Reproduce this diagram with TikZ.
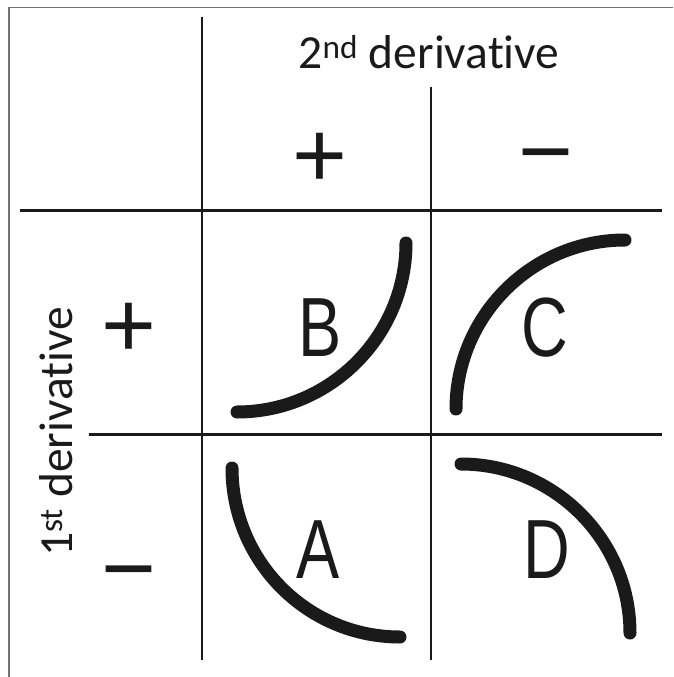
\documentclass[tikz,border=0pt]{standalone}
\usepackage{fontspec}
\setmainfont{Carlito}[Ligatures=NoCommon]
\newfontfamily\arialf{Liberation Sans}
\newfontfamily\narrowf{Liberation Sans}[FakeStretch=0.77]
\definecolor{ink}{HTML}{1A1A1A}
\begin{document}
\begin{tikzpicture}[x=1pt,y=-1pt,
  frameline/.style={draw=black!55,line width=1.5pt},
  gridline/.style={draw=ink,line width=2.8pt},
  curve/.style={draw=ink,line width=13pt,line cap=round},
  axislabel/.style={inner sep=0pt,font=\fontsize{47.5}{55}\selectfont,text=ink},
  signlabel/.style={inner sep=0pt,anchor=base,font=\arialf\fontsize{94}{96}\selectfont,text=ink},
  letterlabel/.style={inner sep=0pt,font=\narrowf\fontsize{84}{90}\selectfont,text=ink}]
\useasboundingbox (0,0) rectangle (673,677);
% partial frame
\coordinate (ftl) at (9,7.5);
\coordinate (ftr) at (673,7.5);
\coordinate (fbl) at (9,677);
\draw[frameline] (ftr) -- (ftl) -- (fbl);
% grid
\coordinate (v1t) at (202,17);  \coordinate (v1b) at (202,660);
\coordinate (v2t) at (431,87);  \coordinate (v2b) at (431,660);
\coordinate (h1l) at (20,210.5); \coordinate (h1r) at (662,210.5);
\coordinate (h2l) at (89,434.5); \coordinate (h2r) at (662,434.5);
\draw[gridline] (v1t) -- (v1b);
\draw[gridline] (v2t) -- (v2b);
\draw[gridline] (h1l) -- (h1r);
\draw[gridline] (h2l) -- (h2r);
% axis labels
\node[axislabel,anchor=base] (top) at (429,68) {2\textsuperscript{nd} derivative};
\node[axislabel,anchor=base,rotate=90] (left) at (72,432) {1\textsuperscript{st} derivative};
% signs
\node[signlabel] (tplus) at (320,187) {+};
\node[signlabel] (tminus) at (546,183) {−};
\node[signlabel] (lplus) at (129,357) {+};
\node[signlabel] (lminus) at (129,600) {−};
% letters
\node[letterlabel,anchor=base] (B) at (320,356) {B};
\node[letterlabel,anchor=base] (C) at (545,356) {C};
\node[letterlabel,anchor=base] (A) at (318,578) {A};
\node[letterlabel,anchor=base] (D) at (547,578) {D};
% curves
\coordinate (b1) at (406,243); \coordinate (b2) at (237,412);
\coordinate (c1) at (456,409); \coordinate (c2) at (625,240);
\coordinate (a1) at (232,468); \coordinate (a2) at (400,637);
\coordinate (d1) at (461,464); \coordinate (d2) at (630,633);
\draw[curve] (b1) .. controls (406,336) and (330,412) .. (b2);
\draw[curve] (c1) .. controls (456,316) and (532,240) .. (c2);
\draw[curve] (a1) .. controls (232,561) and (307,637) .. (a2);
\draw[curve] (d1) .. controls (554,464) and (630,540) .. (d2);
\end{tikzpicture}
\end{document}
